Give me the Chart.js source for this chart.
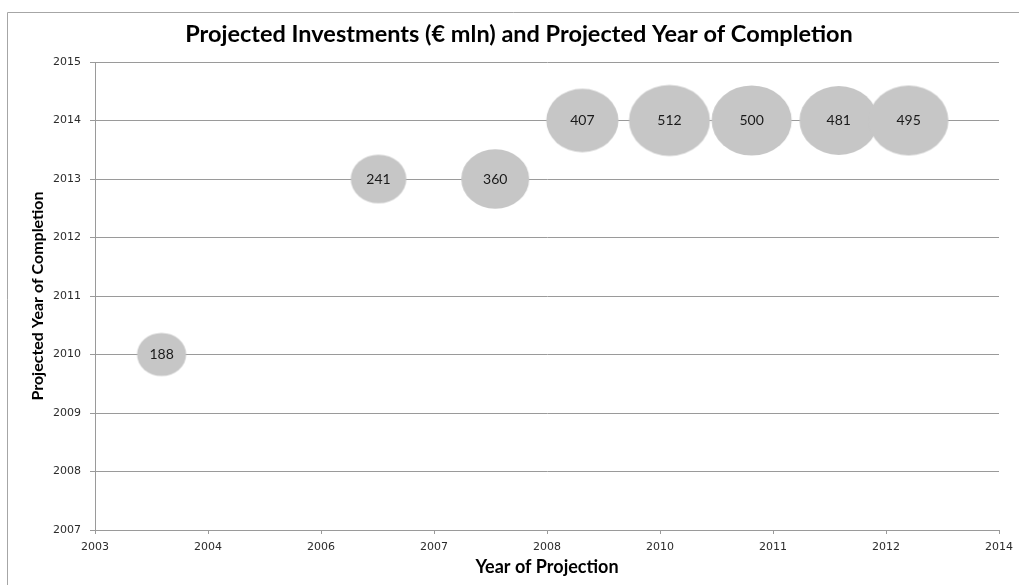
<!DOCTYPE html>
<html>
<head>
<meta charset="utf-8">
<script src="https://cdn.jsdelivr.net/npm/chart.js@4"></script>
<style>
  html, body { margin: 0; padding: 0; background: #fff; }
  #wrap { width: 1019px; height: 585px; }
</style>
</head>
<body>
<div id="wrap"><canvas id="myChart" width="1019" height="585"></canvas></div>
<script>
// valores
const investments = [188, 241, 360, 407, 512, 500, 481, 495];
const projectionYear = [2003.81, 2006.45, 2007.87, 2008.93, 2009.99, 2010.99, 2012.05, 2012.90];
const completionYear = [2010, 2013, 2013, 2014, 2014, 2014, 2014, 2014];
const xTickLabels = ['2003', '2004', '2006', '2007', '2008', '2010', '2011', '2012', '2014'];
const yTickLabels = ['2007', '2008', '2009', '2010', '2011', '2012', '2013', '2014', '2015'];

const X_MIN = 2003, X_MAX = 2014;
// burbujas algo más anchas que altas, como en la imagen
const KX = 1.79, KY = 1.57;
const cache = {};

function elipse(v) {
    if (cache[v]) return cache[v];
    const rx = KX * Math.sqrt(v), ry = KY * Math.sqrt(v);
    const c = document.createElement('canvas');
    c.width = Math.ceil(rx * 2) + 2;
    c.height = Math.ceil(ry * 2) + 2;
    const g = c.getContext('2d');
    g.fillStyle = '#c6c6c6';
    g.beginPath();
    g.ellipse(c.width / 2, c.height / 2, rx, ry, 0, 0, Math.PI * 2);
    g.fill();
    cache[v] = c;
    return c;
}

const marco = {
    id: 'marco',
    beforeDraw(chart) {
        const ctx = chart.ctx;
        ctx.save();
        ctx.strokeStyle = '#a6a6a6';
        ctx.lineWidth = 1;
        ctx.beginPath();
        ctx.moveTo(7.5, 590);
        ctx.lineTo(7.5, 12.5);
        ctx.lineTo(1019, 12.5);
        ctx.stroke();
        ctx.restore();
    }
};

const etiquetas = {
    id: 'etiquetas',
    afterDatasetsDraw(chart) {
        const ctx = chart.ctx;
        const meta = chart.getDatasetMeta(0);
        ctx.save();
        ctx.font = '14px Lato';
        ctx.fillStyle = '#1a1a1a';
        ctx.textAlign = 'center';
        ctx.textBaseline = 'middle';
        meta.data.forEach((el, i) => {
            ctx.fillText(String(investments[i]), el.x, el.y);
        });
        ctx.restore();
    }
};

const puntos = projectionYear.map((x, i) => ({ x: x, y: completionYear[i] }));

new Chart(document.getElementById('myChart'), {
    type: 'bubble',
    data: {
        datasets: [{
            data: puntos,
            radius: c => KY * Math.sqrt(investments[c.dataIndex]),
            pointStyle: c => elipse(investments[c.dataIndex]),
            backgroundColor: '#c6c6c6',
            borderWidth: 0
        }]
    },
    options: {
        responsive: false,
        animation: false,
        layout: { autoPadding: false, padding: { left: 19, top: 12, right: 0, bottom: 0 } },
        plugins: {
            legend: { display: false },
            tooltip: { enabled: false },
            title: {
                display: true,
                text: 'Projected Investments (€ mln) and Projected Year of Completion',
                color: '#000',
                font: { family: 'Lato', size: 23.5, weight: 'bold', lineHeight: 1.2 },
                padding: { top: 8, bottom: 13.8 }
            }
        },
        scales: {
            x: {
                type: 'linear',
                min: X_MIN,
                max: X_MAX,
                afterBuildTicks: s => {
                    s.ticks = xTickLabels.map((l, i) => ({ value: X_MIN + i * (X_MAX - X_MIN) / (xTickLabels.length - 1) }));
                },
                afterFit: s => {
                    s.height = 55;
                    s.paddingLeft = 0;
                    s.paddingRight = 20;
                },
                grid: { drawOnChartArea: false, drawTicks: true, tickLength: 4, color: '#9a9a9a' },
                border: { color: '#9a9a9a' },
                ticks: {
                    autoSkip: false,
                    maxRotation: 0,
                    padding: 7,
                    color: '#2b2b2b',
                    font: { family: 'DejaVu Sans', size: 11 },
                    callback: (v, i) => xTickLabels[i]
                },
                title: {
                    display: true,
                    text: 'Year of Projection',
                    color: '#000',
                    font: { family: 'Lato', size: 18, weight: 'bold', lineHeight: 1.2 },
                    padding: { top: 0, bottom: 7.2 }
                }
            },
            y: {
                min: 2007,
                max: 2015,
                afterFit: s => {
                    s.width = 76;
                    s.paddingTop = 0;
                    s.paddingBottom = 0;
                },
                grid: { color: '#9a9a9a', tickLength: 5 },
                border: { color: '#9a9a9a' },
                ticks: {
                    stepSize: 1,
                    padding: 9,
                    color: '#2b2b2b',
                    font: { family: 'DejaVu Sans', size: 11 },
                    callback: (v, i) => yTickLabels[i]
                },
                title: {
                    display: true,
                    text: 'Projected Year of Completion',
                    color: '#000',
                    font: { family: 'Lato', size: 16, weight: 'bold', lineHeight: 1.2 },
                    padding: { top: 9.4, bottom: 0 }
                }
            }
        }
    },
    plugins: [marco, etiquetas]
});
</script>
</body>
</html>
